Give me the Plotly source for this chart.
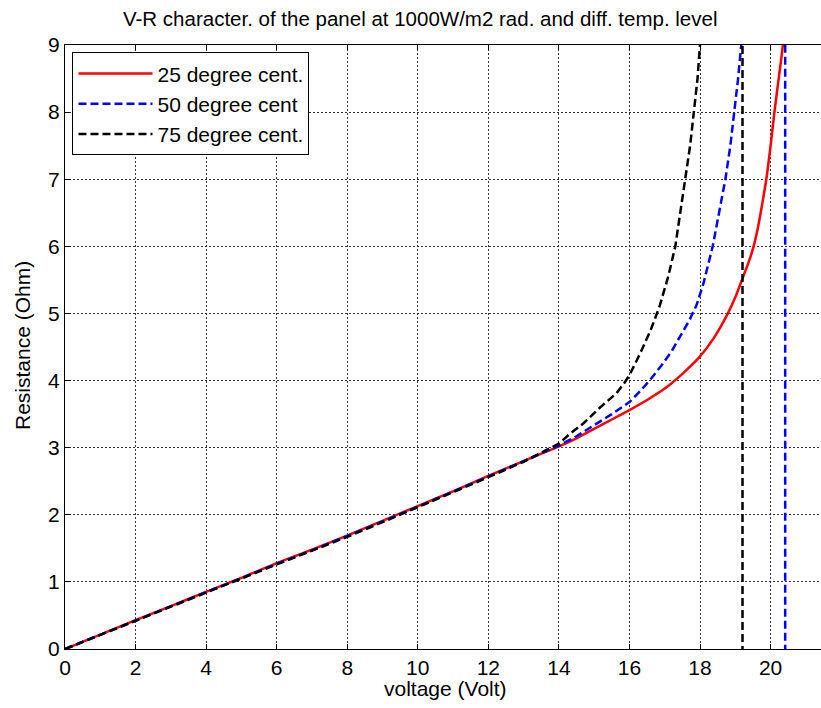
import plotly.graph_objects as go

# Voltage (V) and resistance (Ohm)
V_25 = [0, 1, 2, 3, 4, 5, 6, 7, 8, 9, 10, 11, 12, 13, 13.5, 14, 14.5, 15, 15.5, 16,
        16.5, 17, 17.5, 18, 18.4, 18.79, 19.0, 19.21, 19.37, 19.52, 19.65, 19.77,
        19.88, 19.99, 20.11, 20.23, 20.35, 20.6, 20.9, 21.2, 21.42]
R_25 = [0, 0.215, 0.43, 0.64, 0.85, 1.06, 1.28, 1.48, 1.69, 1.91, 2.13, 2.35, 2.58, 2.8, 2.91,
        3.02, 3.14, 3.28, 3.42, 3.56, 3.71, 3.88, 4.1, 4.36, 4.64, 5.0, 5.24,
        5.53, 5.75, 6.0, 6.3, 6.65, 7.0, 7.45, 8.0, 8.5, 9.0, 11, 16, 30, 60]

V_50 = [0, 1, 2, 3, 4, 5, 6, 7, 8, 9, 10, 11, 12, 13, 13.5, 14, 14.5, 15, 15.5, 16,
        16.3, 16.6, 16.9, 17.2, 17.45, 17.7, 17.9, 18.1, 18.36, 18.55, 18.72, 18.86, 18.98,
        19.08, 19.17, 19.4, 19.7, 20.0, 20.3, 20.41, 20.42]
R_50 = [0, 0.214, 0.428, 0.638, 0.848, 1.055, 1.27, 1.47, 1.68, 1.9, 2.12, 2.34, 2.57, 2.8, 2.91,
        3.03, 3.17, 3.33, 3.5, 3.68, 3.84, 4.02, 4.22, 4.44, 4.66, 4.9, 5.12, 5.45, 6.0,
        6.5, 7.0, 7.5, 8.0, 8.5, 9.0, 11, 15, 25, 70, 800, -800]

V_75 = [0, 1, 2, 3, 4, 5, 6, 7, 8, 9, 10, 11, 12, 13, 13.5, 14, 14.3, 14.69, 15.17,
        15.63, 15.85, 16.0, 16.3, 16.6, 16.85, 17.1, 17.3, 17.45, 17.58, 17.72, 17.83,
        17.93, 18.0, 18.2, 18.5, 18.8, 19.05, 19.2, 19.21]
R_75 = [0, 0.212, 0.425, 0.635, 0.845, 1.05, 1.26, 1.46, 1.67, 1.89, 2.11, 2.33, 2.56, 2.79, 2.92,
        3.06, 3.2, 3.36, 3.6, 3.81, 3.96, 4.08, 4.4, 4.75, 5.1, 5.55, 6.0, 6.5, 7.0, 7.5,
        8.0, 8.5, 9.0, 12, 18, 35, 90, 800, -800]

x_ticks = [0, 2, 4, 6, 8, 10, 12, 14, 16, 18, 20]
y_ticks = [0, 1, 2, 3, 4, 5, 6, 7, 8, 9]

FONT = "Liberation Sans, Arial, sans-serif"
FS = 21

fig = go.Figure()
fig.add_trace(go.Scatter(x=V_25, y=R_25, mode="lines", name="25 degree cent.",
                         line=dict(color="#ff0000", width=2.5, shape="spline", smoothing=0.6)))
fig.add_trace(go.Scatter(x=V_50, y=R_50, mode="lines", name="50 degree cent",
                         line=dict(color="#0000ff", width=2.5, dash="8px,4px")))
fig.add_trace(go.Scatter(x=V_75, y=R_75, mode="lines", name="75 degree cent.",
                         line=dict(color="#000000", width=2.5, dash="8px,4px")))

axis_common = dict(
    showline=True, linecolor="black", linewidth=1,
    ticks="inside", ticklen=5, tickcolor="black", tickwidth=1,
    showgrid=True, gridcolor="rgba(0,0,0,0.8)", gridwidth=1, griddash="2px,2px",
    zeroline=False, tickfont=dict(family=FONT, size=FS, color="black"),
)

fig.update_layout(
    width=821, height=708,
    margin=dict(l=65, r=0, t=45, b=59),
    paper_bgcolor="white", plot_bgcolor="white",
    font=dict(family=FONT, color="black"),
    xaxis=dict(range=[0, 21.43], tickvals=x_ticks, mirror="ticks", **axis_common),
    yaxis=dict(range=[0, 9], tickvals=y_ticks, **axis_common),
    legend=dict(x=0.0099, y=0.988, xanchor="left", yanchor="top",
                bgcolor="white", bordercolor="black", borderwidth=1,
                font=dict(family=FONT, size=FS, color="black"),
                itemwidth=74, tracegroupgap=0),
    showlegend=True,
    annotations=[
        dict(text="V-R character. of the panel at 1000W/m2 rad. and diff. temp. level",
             xref="paper", yref="paper", x=(420 - 65) / 756, y=1 + (45 - 19) / 604,
             xanchor="center", yanchor="middle", showarrow=False,
             font=dict(family=FONT, size=20.5, color="black")),
        dict(text="voltage (Volt)", xref="paper", yref="paper",
             x=(445 - 65) / 756, y=-(688 - 649) / 604, xanchor="center", yanchor="middle",
             showarrow=False, font=dict(family=FONT, size=FS, color="black")),
        dict(text="Resistance (Ohm)", xref="paper", yref="paper",
             x=-(65 - 22) / 756, y=(649 - 346) / 604, xanchor="center", yanchor="middle",
             textangle=-90, showarrow=False, font=dict(family=FONT, size=FS, color="black")),
    ],
)

fig.write_html("out.html")
